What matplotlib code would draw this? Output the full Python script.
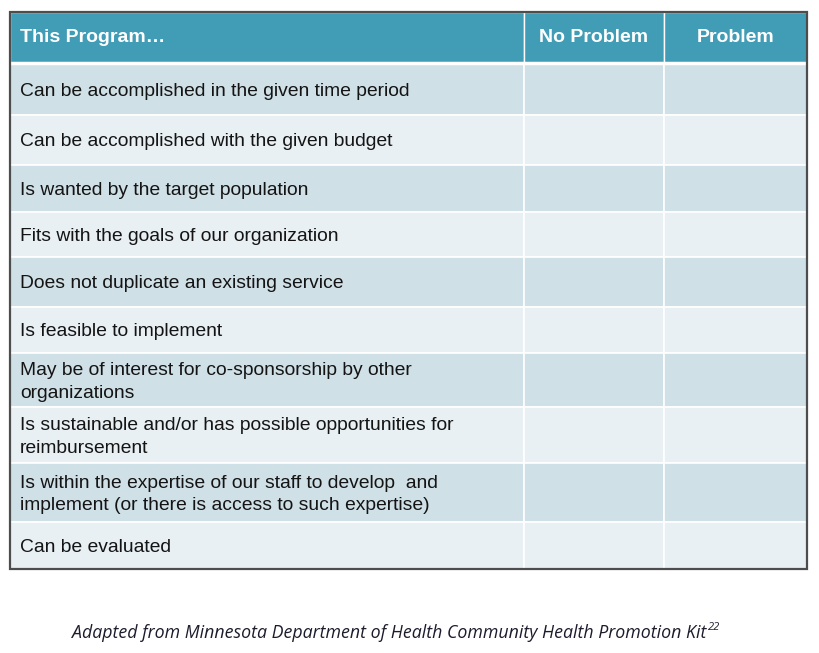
import matplotlib.pyplot as plt
from matplotlib.patches import Rectangle

# table content
header = ["This Program\u2026", "No Problem", "Problem"]
rows = [
    "Can be accomplished in the given time period",
    "Can be accomplished with the given budget",
    "Is wanted by the target population",
    "Fits with the goals of our organization",
    "Does not duplicate an existing service",
    "Is feasible to implement",
    "May be of interest for co-sponsorship by other\norganizations",
    "Is sustainable and/or has possible opportunities for\nreimbursement",
    "Is within the expertise of our staff to develop  and\nimplement (or there is access to such expertise)",
    "Can be evaluated",
]
caption = "Adapted from Minnesota Department of Health Community Health Promotion Kit"
caption_ref = "22"

# layout (pixels)
col_edges = [10, 524, 664, 807]
row_edges = [12, 63, 115, 165, 212, 257, 307, 353, 407, 463, 522, 569]

header_col = "#419db6"
dark_row = "#d0e0e7"
light_row = "#e8f0f4"

fig = plt.figure(figsize=(8.19, 6.53), dpi=100)
ax = fig.add_axes([0, 0, 1, 1])
ax.set_xlim(0, 819)
ax.set_ylim(653, 0)
ax.axis("off")

font = ["Liberation Sans", "DejaVu Sans"]

# header
for j in range(3):
    x0, x1 = col_edges[j], col_edges[j + 1]
    y0, y1 = row_edges[0], row_edges[1]
    ax.add_patch(Rectangle((x0, y0), x1 - x0, y1 - y0, facecolor=header_col,
                           edgecolor="white", lw=1.0))
    if j == 0:
        ax.text(x0 + 10, (y0 + y1) / 2, header[j], color="white", fontsize=14,
                fontweight="bold", family=font, va="center", ha="left")
    else:
        ax.text((x0 + x1) / 2, (y0 + y1) / 2, header[j], color="white", fontsize=14,
                fontweight="bold", family=font, va="center", ha="center")

# body
for i, label in enumerate(rows):
    y0, y1 = row_edges[i + 1], row_edges[i + 2]
    fc = dark_row if i % 2 == 0 else light_row
    for j in range(3):
        x0, x1 = col_edges[j], col_edges[j + 1]
        ax.add_patch(Rectangle((x0, y0), x1 - x0, y1 - y0, facecolor=fc,
                               edgecolor="white", lw=1.2))
    ax.text(col_edges[0] + 10, (y0 + y1) / 2 + 2, label, color="#141414", fontsize=13.9,
            family=font, va="center", ha="left", linespacing=1.45)

# header separator line (white, thicker)
ax.plot([col_edges[0], col_edges[-1]], [row_edges[1], row_edges[1]], color="white", lw=2.5)

# outer border
ax.add_patch(Rectangle((col_edges[0], row_edges[0]), col_edges[-1] - col_edges[0],
                       row_edges[-1] - row_edges[0], facecolor="none",
                       edgecolor="#4d4d4d", lw=1.6, zorder=5))

# caption
cap_font = ["Open Sans", "DejaVu Sans"]
ax.text(706, 633, caption, fontsize=12.8, style="italic", family=cap_font,
        color="#1c1c2c", ha="right", va="center")
ax.text(708, 627, caption_ref, fontsize=8, style="italic", family=cap_font,
        color="#1c1c2c", ha="left", va="center")

fig.savefig("out.png", dpi=100, facecolor="white")
